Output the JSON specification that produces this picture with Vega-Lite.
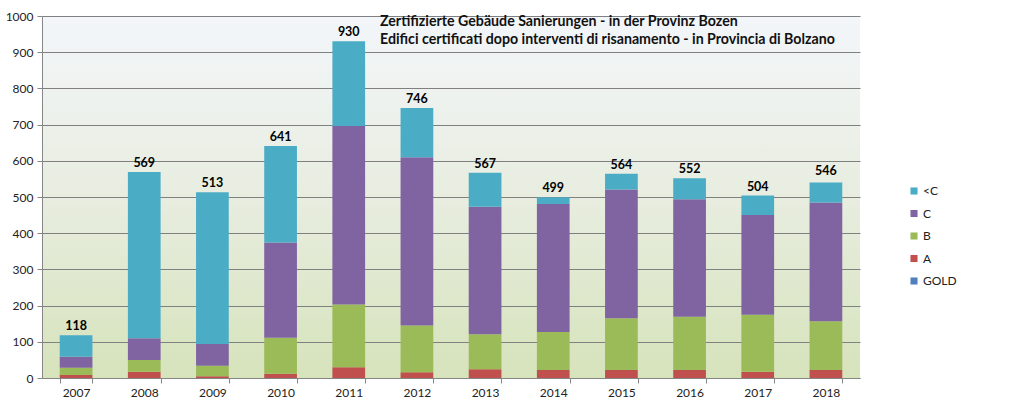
{
  "$schema": "https://vega.github.io/schema/vega-lite/v6.json",
  "width": 818,
  "height": 362,
  "padding": {"left": 5, "top": 10, "right": 5, "bottom": 2},
  "background": "white",
  "config": {
    "font": "Lato",
    "view": {"stroke": null},
    "axis": {"labelFont": "Lato", "labelFontSize": 12, "labelColor": "#222222", "domainColor": "#868686", "tickColor": "#868686", "gridColor": "#868686"}
  },
  "view": {
    "stroke": null,
    "fill": {"gradient": "linear", "x1": 0, "y1": 0, "x2": 0, "y2": 1, "stops": [{"offset": 0, "color": "#F3F6FA"}, {"offset": 0.5, "color": "#E8EDE0"}, {"offset": 1, "color": "#D6E3BB"}]}
  },
  "title": {
    "text": ["Zertifizierte Gebäude Sanierungen - in der Provinz Bozen", "Edifici certificati dopo interventi di risanamento - in Provincia  di Bolzano"],
    "anchor": "start",
    "frame": "group",
    "orient": "top",
    "dx": 338,
    "offset": -37,
    "fontSize": 14.2,
    "fontWeight": "bold",
    "font": "Lato",
    "color": "#111111",
    "lineHeight": 18
  },
  "datasets": {
    "segments": [
      {"year": "2007", "class": "GOLD", "order": 0, "value": 0},
      {"year": "2007", "class": "A", "order": 1, "value": 8},
      {"year": "2007", "class": "B", "order": 2, "value": 20},
      {"year": "2007", "class": "C", "order": 3, "value": 31},
      {"year": "2007", "class": "<C", "order": 4, "value": 59},
      {"year": "2008", "class": "GOLD", "order": 0, "value": 0},
      {"year": "2008", "class": "A", "order": 1, "value": 17},
      {"year": "2008", "class": "B", "order": 2, "value": 33},
      {"year": "2008", "class": "C", "order": 3, "value": 60},
      {"year": "2008", "class": "<C", "order": 4, "value": 459},
      {"year": "2009", "class": "GOLD", "order": 0, "value": 0},
      {"year": "2009", "class": "A", "order": 1, "value": 5},
      {"year": "2009", "class": "B", "order": 2, "value": 29},
      {"year": "2009", "class": "C", "order": 3, "value": 60},
      {"year": "2009", "class": "<C", "order": 4, "value": 419},
      {"year": "2010", "class": "GOLD", "order": 0, "value": 0},
      {"year": "2010", "class": "A", "order": 1, "value": 12},
      {"year": "2010", "class": "B", "order": 2, "value": 99},
      {"year": "2010", "class": "C", "order": 3, "value": 263},
      {"year": "2010", "class": "<C", "order": 4, "value": 267},
      {"year": "2011", "class": "GOLD", "order": 0, "value": 0},
      {"year": "2011", "class": "A", "order": 1, "value": 30},
      {"year": "2011", "class": "B", "order": 2, "value": 173},
      {"year": "2011", "class": "C", "order": 3, "value": 493},
      {"year": "2011", "class": "<C", "order": 4, "value": 234},
      {"year": "2012", "class": "GOLD", "order": 0, "value": 0},
      {"year": "2012", "class": "A", "order": 1, "value": 16},
      {"year": "2012", "class": "B", "order": 2, "value": 129},
      {"year": "2012", "class": "C", "order": 3, "value": 465},
      {"year": "2012", "class": "<C", "order": 4, "value": 136},
      {"year": "2013", "class": "GOLD", "order": 0, "value": 0},
      {"year": "2013", "class": "A", "order": 1, "value": 24},
      {"year": "2013", "class": "B", "order": 2, "value": 97},
      {"year": "2013", "class": "C", "order": 3, "value": 352},
      {"year": "2013", "class": "<C", "order": 4, "value": 94},
      {"year": "2014", "class": "GOLD", "order": 0, "value": 0},
      {"year": "2014", "class": "A", "order": 1, "value": 22},
      {"year": "2014", "class": "B", "order": 2, "value": 105},
      {"year": "2014", "class": "C", "order": 3, "value": 354},
      {"year": "2014", "class": "<C", "order": 4, "value": 18},
      {"year": "2015", "class": "GOLD", "order": 0, "value": 0},
      {"year": "2015", "class": "A", "order": 1, "value": 22},
      {"year": "2015", "class": "B", "order": 2, "value": 143},
      {"year": "2015", "class": "C", "order": 3, "value": 356},
      {"year": "2015", "class": "<C", "order": 4, "value": 43},
      {"year": "2016", "class": "GOLD", "order": 0, "value": 0},
      {"year": "2016", "class": "A", "order": 1, "value": 22},
      {"year": "2016", "class": "B", "order": 2, "value": 147},
      {"year": "2016", "class": "C", "order": 3, "value": 325},
      {"year": "2016", "class": "<C", "order": 4, "value": 58},
      {"year": "2017", "class": "GOLD", "order": 0, "value": 0},
      {"year": "2017", "class": "A", "order": 1, "value": 17},
      {"year": "2017", "class": "B", "order": 2, "value": 158},
      {"year": "2017", "class": "C", "order": 3, "value": 275},
      {"year": "2017", "class": "<C", "order": 4, "value": 54},
      {"year": "2018", "class": "GOLD", "order": 0, "value": 0},
      {"year": "2018", "class": "A", "order": 1, "value": 22},
      {"year": "2018", "class": "B", "order": 2, "value": 135},
      {"year": "2018", "class": "C", "order": 3, "value": 328},
      {"year": "2018", "class": "<C", "order": 4, "value": 55}
    ],
    "totals": [
      {"year": "2007", "total": 118},
      {"year": "2008", "total": 569},
      {"year": "2009", "total": 513},
      {"year": "2010", "total": 641},
      {"year": "2011", "total": 930},
      {"year": "2012", "total": 746},
      {"year": "2013", "total": 567},
      {"year": "2014", "total": 499},
      {"year": "2015", "total": 564},
      {"year": "2016", "total": 552},
      {"year": "2017", "total": 504},
      {"year": "2018", "total": 546}
    ]
  },
  "encoding": {
    "x": {
      "field": "year", "type": "nominal", "title": null,
      "scale": {"paddingInner": 0.52, "paddingOuter": 0.26},
      "axis": {"labelAngle": 0, "tickBand": "extent", "tickSize": 5, "labelPadding": 4, "domainColor": "#868686", "grid": false}
    }
  },
  "layer": [
    {
      "data": {"name": "segments"},
      "mark": {"type": "bar"},
      "encoding": {
        "y": {
          "field": "value", "type": "quantitative", "stack": "zero", "title": null,
          "scale": {"domain": [0, 1000], "nice": false},
          "axis": {"values": [0, 100, 200, 300, 400, 500, 600, 700, 800, 900, 1000], "tickCount": 12, "format": "d", "labelOverlap": false, "grid": true, "gridColor": "#808080", "gridWidth": 1.2, "tickSize": 5, "labelPadding": 4, "domain": true}
        },
        "order": {"field": "order", "type": "quantitative"},
        "color": {
          "field": "class", "type": "nominal",
          "scale": {"domain": ["<C", "C", "B", "A", "GOLD"], "range": ["#4BACC6", "#8064A2", "#9BBB59", "#C0504D", "#4F81BD"]},
          "legend": {"title": null, "orient": "none", "legendX": 866, "legendY": 169, "symbolType": "square", "symbolSize": 50, "symbolStrokeWidth": 0, "labelFont": "Lato", "labelFontSize": 12, "labelColor": "#222222", "rowPadding": 10.5, "labelOffset": 3}
        }
      }
    },
    {
      "data": {"name": "totals"},
      "mark": {"type": "text", "dy": -9, "fontWeight": "bold", "fontSize": 12.5, "font": "Lato", "color": "#000000"},
      "encoding": {
        "y": {"field": "total", "type": "quantitative", "title": null},
        "text": {"field": "total", "type": "quantitative"}
      }
    }
  ]
}
